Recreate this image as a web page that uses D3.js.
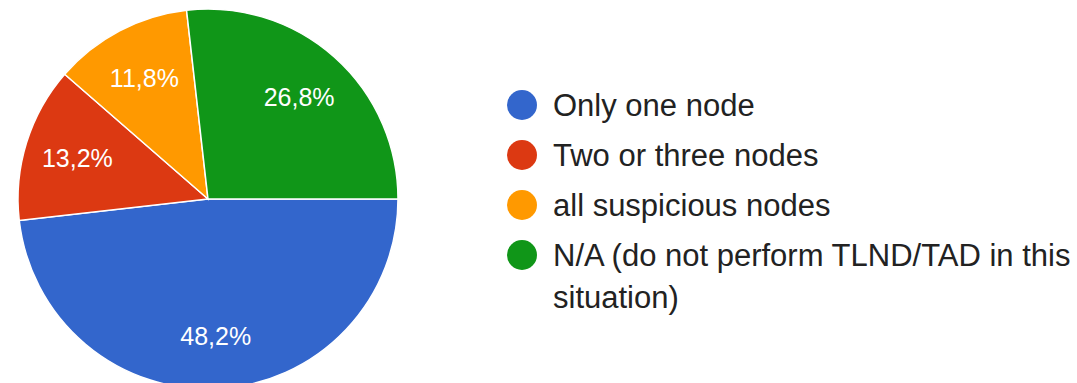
<!DOCTYPE html>
<html>
<head>
<meta charset="utf-8">
<script src="https://cdn.jsdelivr.net/npm/d3@7"></script>
<style>
  body { margin: 0; background: #fff; }
  svg { display: block; font-family: Arial, "Liberation Sans", sans-serif; }
</style>
</head>
<body>
<div id="chart"></div>
<script>
// data
const categories = ["Only one node", "Two or three nodes", "all suspicious nodes", "N/A (do not perform TLND/TAD in this situation)"];
const values = [48.2, 13.2, 11.8, 26.8];
const colors = ["#3366cc", "#dc3912", "#ff9900", "#109618"];
const legendLines = [["Only one node"], ["Two or three nodes"], ["all suspicious nodes"], ["N/A (do not perform TLND/TAD in this", "situation)"]];

const width = 1077, height = 383;
const cx = 208, cy = 199, radius = 190;

const svg = d3.select("#chart")
    .append("svg")
        .attr("width", width)
        .attr("height", height);

const data = categories.map((c, i) => ({ name: c, value: values[i], color: colors[i] }));

// pie starts at 3 o'clock and goes clockwise
const pie = d3.pie()
    .value(d => d.value)
    .sort(null)
    .startAngle(Math.PI / 2)
    .endAngle(Math.PI / 2 + 2 * Math.PI);

const arc = d3.arc().innerRadius(0).outerRadius(radius);
const labelArc = d3.arc().innerRadius(radius * 0.62).outerRadius(radius * 0.82);

const g = svg.append("g")
    .attr("transform", `translate(${cx}, ${cy})`);

const arcs = pie(data);

g.selectAll("path")
    .data(arcs)
    .join("path")
    .attr("d", arc)
    .attr("fill", d => d.data.color)
    .attr("stroke", "#fff")
    .attr("stroke-width", 1.5);

const fmt = v => v.toFixed(1).replace(".", ",") + "%";

g.selectAll("text.pct")
    .data(arcs)
    .join("text")
    .attr("class", "pct")
    .attr("transform", d => `translate(${labelArc.centroid(d)})`)
    .attr("text-anchor", "middle")
    .attr("dy", "0.36em")
    .attr("fill", "#fff")
    .style("font-size", "25px")
    .text(d => fmt(d.data.value));

// legend
const legend = svg.append("g")
    .attr("transform", "translate(522, 105)");

const rowY = [0, 50, 100, 150];

const item = legend.selectAll("g")
    .data(data)
    .join("g")
    .attr("transform", (d, i) => `translate(0, ${rowY[i]})`);

item.append("circle")
    .attr("r", 15)
    .attr("fill", d => d.color);

item.append("text")
    .attr("x", 31)
    .attr("fill", "#222")
    .style("font-size", "31px")
    .selectAll("tspan")
    .data((d, i) => legendLines[i])
    .join("tspan")
    .attr("x", 31)
    .attr("dy", (d, j) => j === 0 ? "0.36em" : "42px")
    .text(d => d);
</script>
</body>
</html>
